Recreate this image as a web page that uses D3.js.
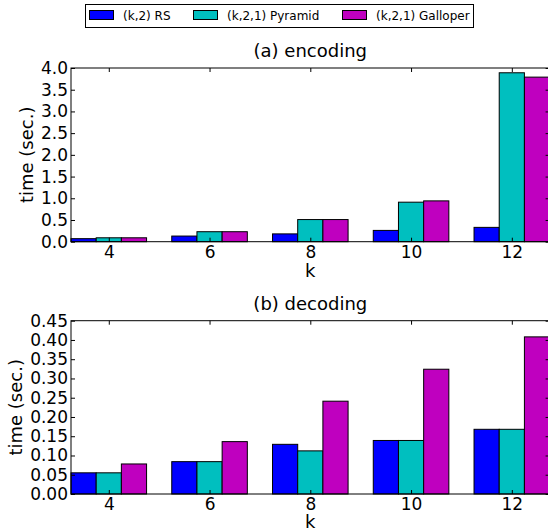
<!DOCTYPE html>
<html lang="en">
<head>
    <meta charset="utf-8">
    <title>encoding / decoding time</title>
    <style>
        body { margin: 0; background: #fff; }
        svg text { font-family: "DejaVu Sans", sans-serif; fill: #000; }
        .axis path { display: none; }
        .axis line { stroke: #000; }
        .bar { stroke: #000; stroke-width: 1px; }
        .frame { fill: none; stroke: #000; stroke-width: 1px; }
    </style>
    <script src="https://d3js.org/d3.v7.min.js"></script>
</head>
<body>
<svg width="548" height="531"></svg>
<script>
// values
var ks = [4, 6, 8, 10, 12];
var seriesNames = ["(k,2) RS", "(k,2,1) Pyramid", "(k,2,1) Galloper"];
var seriesColors = ["#0000ff", "#00bfbf", "#bf00bf"];

var encRS       = [0.07, 0.13, 0.18, 0.26, 0.33];
var encPyramid  = [0.09, 0.23, 0.51, 0.91, 3.89];
var encGalloper = [0.09, 0.23, 0.51, 0.94, 3.79];

var decRS       = [0.055, 0.084, 0.129, 0.139, 0.168];
var decPyramid  = [0.055, 0.084, 0.112, 0.139, 0.168];
var decGalloper = [0.078, 0.136, 0.241, 0.324, 0.408];

var encTicks = [0, 0.5, 1.0, 1.5, 2.0, 2.5, 3.0, 3.5, 4.0];
var decTicks = [0, 0.05, 0.10, 0.15, 0.20, 0.25, 0.30, 0.35, 0.40, 0.45];

var svg = d3.select("svg");
var left = 71, right = 549.6;

// legend
var legend = svg.append("g");
legend.append("rect")
    .attr("x", 85.5).attr("y", 4.5).attr("width", 388).attr("height", 23)
    .attr("fill", "#fff").attr("stroke", "#000");
var legX = [89, 193, 342];
seriesNames.forEach(function (name, i) {
    legend.append("rect")
        .attr("x", legX[i] + 0.5).attr("y", 10.5).attr("width", 24).attr("height", 9)
        .attr("fill", seriesColors[i]).attr("stroke", "#000");
    legend.append("text")
        .attr("x", legX[i] + 34).attr("y", 19.5)
        .style("font-size", "12px")
        .text(name);
});

function drawPanel(top, bottom, title, titleY, series, ticks, yMax, fmt, ylabelX, xtitleY) {
    var x = d3.scaleBand().domain(ks).range([left, right]).paddingInner(0.25).paddingOuter(0);
    var xs = d3.scaleBand().domain(d3.range(series.length)).range([0, x.bandwidth()]);
    var y = d3.scaleLinear().domain([0, yMax]).range([bottom, top]);

    var g = svg.append("g");

    // bars
    series.forEach(function (vals, si) {
        g.selectAll(null)
            .data(vals)
            .enter().append("rect")
            .attr("class", "bar")
            .attr("x", function (d, i) { return x(ks[i]) + xs(si); })
            .attr("y", function (d) { return y(d); })
            .attr("width", xs.bandwidth())
            .attr("height", function (d) { return y(0) - y(d); })
            .attr("fill", seriesColors[si]);
    });

    // inward ticks on all four sides
    g.append("g").attr("class", "axis")
        .attr("transform", "translate(" + left + ",0)")
        .call(d3.axisLeft(y).tickValues(ticks).tickSize(-4).tickPadding(3).tickFormat(d3.format(fmt)))
        .selectAll("text").style("font-size", "17px");
    g.append("g").attr("class", "axis")
        .attr("transform", "translate(" + right + ",0)")
        .call(d3.axisRight(y).tickValues(ticks).tickSize(-4).tickFormat(""));

    var xc = function (k) { return x(k) + x.bandwidth() / 2; };
    var xt = d3.scaleOrdinal().domain(ks).range(ks.map(xc));
    g.append("g").attr("class", "axis")
        .attr("transform", "translate(0," + bottom + ")")
        .call(d3.axisBottom(xt).tickSize(-4).tickPadding(4))
        .selectAll("text").style("font-size", "17px");
    g.append("g").attr("class", "axis")
        .attr("transform", "translate(0," + top + ")")
        .call(d3.axisTop(xt).tickSize(-4).tickFormat(""));

    g.append("rect").attr("class", "frame")
        .attr("x", left).attr("y", top)
        .attr("width", right - left).attr("height", bottom - top);

    g.append("text")
        .attr("x", (left + right) / 2).attr("y", titleY)
        .attr("text-anchor", "middle")
        .style("font-size", "18px")
        .text(title);

    g.append("text")
        .attr("transform", "translate(" + ylabelX + "," + ((top + bottom) / 2) + ") rotate(-90)")
        .attr("text-anchor", "middle")
        .style("font-size", "18px")
        .text("time (sec.)");

    g.append("text")
        .attr("x", (left + right) / 2).attr("y", xtitleY)
        .attr("text-anchor", "middle")
        .style("font-size", "18px")
        .text("k");
}

drawPanel(68, 241.7, "(a) encoding", 56.5, [encRS, encPyramid, encGalloper], encTicks, 4.0, ".1f", 33, 277);
drawPanel(320.7, 494, "(b) decoding", 310, [decRS, decPyramid, decGalloper], decTicks, 0.45, ".2f", 22, 528);
</script>
</body>
</html>
